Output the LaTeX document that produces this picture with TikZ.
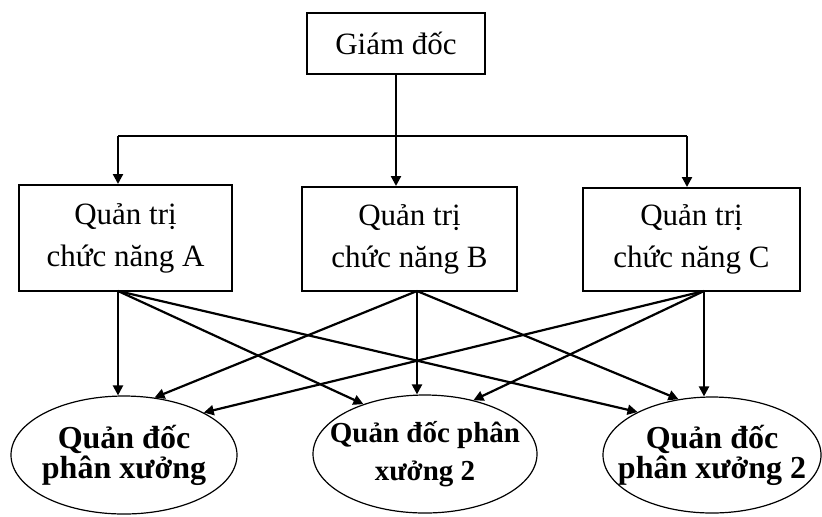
\documentclass[tikz,border=0pt]{standalone}
\usepackage{fontspec}
\setmainfont{Liberation Serif}
\usetikzlibrary{shapes.geometric, arrows.meta, positioning}

\begin{document}
\begin{tikzpicture}[x=0.5pt, y=-0.5pt,
    box/.style={draw, line width=1pt, align=center, inner sep=0pt, font=\fontsize{15.5}{21}\selectfont},
    unit/.style={draw, ellipse, line width=0.6pt, align=center, inner xsep=-10pt, inner ysep=0pt, font=\bfseries\fontsize{16}{15}\selectfont},
    link/.style={line width=1.1pt, -{Triangle[length=5pt, width=5pt]}}]
    \useasboundingbox (0,0) rectangle (822,516);
    % Director
    \node[box, minimum width=89pt, minimum height=30.5pt] (gd) at (396,43) {Giám đốc};
    % Function managers
    \node[box, minimum width=106.5pt, minimum height=53pt] (qa) at (125.5,238) {Quản trị\\chức năng A};
    \node[box, minimum width=107.5pt, minimum height=52pt] (qb) at (409.5,239) {Quản trị\\chức năng B};
    \node[box, minimum width=108.5pt, minimum height=51.5pt] (qc) at (691.5,239.5) {Quản trị\\chức năng C};
    % Workshop managers
    \node[unit, minimum width=113pt, minimum height=59pt] (px1) at (124,455) {Quản đốc\\phân xưởng};
    \node[unit, minimum width=112pt, minimum height=59pt, font=\bfseries\fontsize{14.5}{19}\selectfont] (px2) at (425,454) {Quản đốc phân\\xưởng 2};
    \node[unit, minimum width=109pt, minimum height=58pt] (px3) at (712,455) {Quản đốc\\phân xưởng 2};
    % Bus from director
    \coordinate (bus) at (396,136);
    \coordinate (busa) at (118,136);
    \coordinate (busc) at (687,136);
    \draw[line width=1.1pt] (gd.south) -- (bus);
    \draw[line width=1.1pt] (busa) -- (busc);
    \draw[link] (busa) -- (busa |- qa.north);
    \draw[link] (bus) -- (bus |- qb.north);
    \draw[link] (busc) -- (busc |- qc.north);
    % Function managers to workshops
    \coordinate (oa) at (118,291);
    \coordinate (ob) at (417,291);
    \coordinate (oc) at (704,291);
    \draw[link] (oa) -- (oa |- px1.north);
    \draw[link] (oa) -- (px2.141);
    \draw[link] (oa) -- (px3.150);
    \draw[link] (ob) -- (px1.62);
    \draw[link] (ob) -- (ob |- px2.north);
    \draw[link] (ob) -- (px3.121);
    \draw[link] (oc) -- (px1.28);
    \draw[link] (oc) -- (px2.48);
    \draw[link] (oc) -- (oc |- px3.north);
\end{tikzpicture}
\end{document}
